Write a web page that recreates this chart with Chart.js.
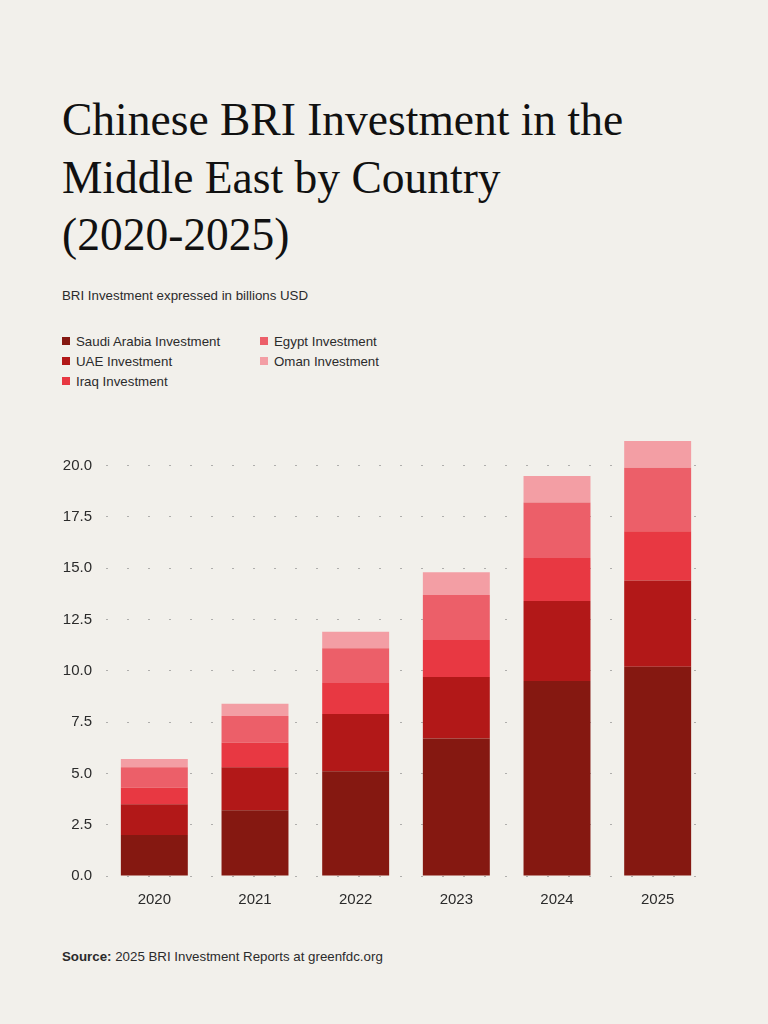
<!DOCTYPE html>
<html>
<head>
<meta charset="utf-8">
<script src="https://cdn.jsdelivr.net/npm/chart.js@4/dist/chart.umd.min.js"></script>
<style>
  html, body {
    margin: 0;
    padding: 0;
    background: #f2f0eb;
    width: 768px;
    height: 1024px;
    overflow: hidden;
    font-family: "Liberation Sans", Arial, sans-serif;
    color: #2b2b2b;
  }
  h1 {
    position: absolute;
    left: 62px;
    top: 91px;
    margin: 0;
    font-family: "Liberation Serif", "Times New Roman", serif;
    font-weight: normal;
    font-size: 45.5px;
    line-height: 57.5px;
    color: #111;
  }
  .subtitle {
    position: absolute;
    left: 62px;
    top: 288px;
    font-size: 13.3px;
    line-height: 16px;
  }
  #legend {
    position: absolute;
    left: 62px;
    top: 333px;
    display: grid;
    grid-template-rows: repeat(3, 20px);
    grid-auto-flow: column;
    grid-auto-columns: 198px;
    font-size: 13.3px;
  }
  #legend .item {
    display: flex;
    align-items: center;
    height: 16px;
  }
  #legend .box {
    width: 8px;
    height: 8px;
    margin-right: 6px;
  }
  .chart-wrap {
    position: absolute;
    left: 0;
    top: 420px;
    width: 720px;
    height: 496px;
  }
  .source {
    position: absolute;
    left: 62px;
    top: 949px;
    font-size: 13.3px;
    line-height: 16px;
  }
</style>
</head>
<body>
<h1>Chinese BRI Investment in the<br>Middle East by Country<br>(2020-2025)</h1>
<div class="subtitle">BRI Investment expressed in billions USD</div>
<div id="legend"></div>
<div class="chart-wrap"><canvas id="briChart"></canvas></div>
<div class="source"><b>Source:</b> 2025 BRI Investment Reports at greenfdc.org</div>

<script>
// values in billions USD
const years = ['2020', '2021', '2022', '2023', '2024', '2025'];
const saudiInvestment = [2.0, 3.2, 5.1, 6.7, 9.5, 10.2];
const uaeInvestment = [1.5, 2.1, 2.8, 3.0, 3.9, 4.2];
const iraqInvestment = [0.8, 1.2, 1.5, 1.8, 2.1, 2.4];
const egyptInvestment = [1.0, 1.3, 1.7, 2.2, 2.7, 3.1];
const omanInvestment = [0.4, 0.6, 0.8, 1.1, 1.3, 1.3];
const yTickStep = 2.5;

const seriesNames = ['Saudi Arabia Investment', 'UAE Investment', 'Iraq Investment', 'Egypt Investment', 'Oman Investment'];
const seriesValues = [saudiInvestment, uaeInvestment, iraqInvestment, egyptInvestment, omanInvestment];
const seriesColors = ['#851811', '#b21818', '#e83842', '#ec5f69', '#f39ea4'];

document.addEventListener('DOMContentLoaded', function () {
    buildLegend();
    initInvestmentChart();
});

/**
 * Legend laid out in two columns, like the original
 */
function buildLegend() {
    const legend = document.getElementById('legend');
    seriesNames.forEach((name, i) => {
        const item = document.createElement('div');
        item.className = 'item';
        const box = document.createElement('span');
        box.className = 'box';
        box.style.background = seriesColors[i];
        const label = document.createElement('span');
        label.textContent = name;
        item.appendChild(box);
        item.appendChild(label);
        legend.appendChild(item);
    });
}

function initInvestmentChart() {
    const datasets = seriesNames.map((name, i) => ({
        label: name,
        data: seriesValues[i],
        backgroundColor: seriesColors[i],
        borderWidth: 0,
        categoryPercentage: 1,
        barPercentage: 0.665
    }));

    const config = {
        type: 'bar',
        data: { labels: years, datasets: datasets },
        options: {
            responsive: true,
            maintainAspectRatio: false,
            animation: false,
            layout: { padding: { top: 1, right: 12, left: 0, bottom: 0 } },
            plugins: {
                legend: { display: false },
                title: { display: false },
                tooltip: { enabled: false }
            },
            scales: {
                x: {
                    stacked: true,
                    grid: { display: false, drawTicks: false },
                    border: { display: false },
                    ticks: {
                        color: '#2b2b2b',
                        padding: 15,
                        font: { family: '"Liberation Sans", Arial, sans-serif', size: 15 }
                    },
                    afterFit: function (scale) { scale.height = 40; }
                },
                y: {
                    stacked: true,
                    min: 0,
                    bounds: 'data',
                    grid: {
                        color: 'rgba(120, 120, 120, 0.55)',
                        lineWidth: 1,
                        drawTicks: false
                    },
                    border: { display: false, dash: [2, 19], dashOffset: -2 },
                    ticks: {
                        stepSize: yTickStep,
                        color: '#2b2b2b',
                        padding: 12,
                        font: { family: '"Liberation Sans", Arial, sans-serif', size: 15 },
                        callback: function (value) {
                            return value.toFixed(1);
                        }
                    },
                    // keep only the round 2.5 steps, drop the tick at the data max
                    afterBuildTicks: function (scale) {
                        scale.ticks = scale.ticks.filter(t => {
                            const k = t.value / yTickStep;
                            return Math.abs(k - Math.round(k)) < 1e-6;
                        });
                    },
                    afterFit: function (scale) { scale.width = 104; }
                }
            }
        }
    };

    const ctx = document.getElementById('briChart').getContext('2d');
    new Chart(ctx, config);
}
</script>
</body>
</html>
